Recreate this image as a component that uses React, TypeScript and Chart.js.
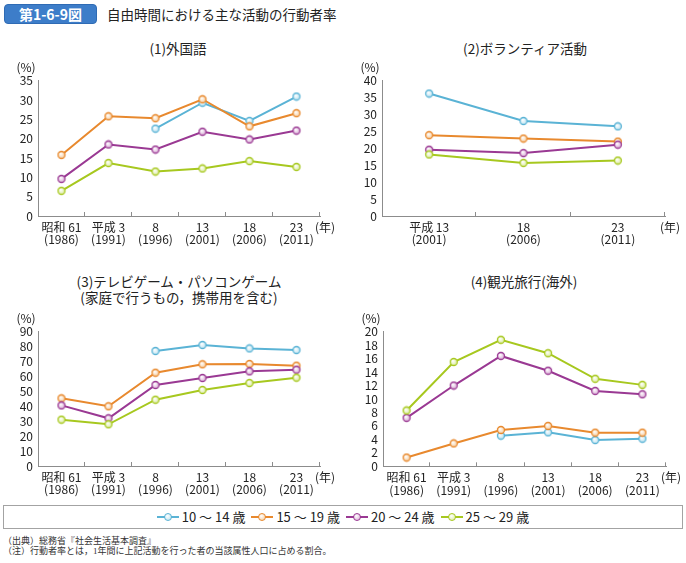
import React, { useEffect, useRef } from "react";
import { Chart, registerables } from "chart.js";

Chart.register(...registerables);

// ---------- data ----------
const yearsLong = [
  ["昭和 61", "(1986)"],
  ["平成 3", "(1991)"],
  ["8", "(1996)"],
  ["13", "(2001)"],
  ["18", "(2006)"],
  ["23", "(2011)"],
];
const yearsShort = [
  ["平成 13", "(2001)"],
  ["18", "(2006)"],
  ["23", "(2011)"],
];
const seriesNames = ["10 ～ 14 歳", "15 ～ 19 歳", "20 ～ 24 歳", "25 ～ 29 歳"];

// (1) 外国語
const foreign10 = [null, null, 22.6, 29.3, 24.6, 30.9];
const foreign15 = [15.8, 25.8, 25.3, 30.2, 23.2, 26.6];
const foreign20 = [9.6, 18.5, 17.2, 21.8, 19.8, 22.1];
const foreign25 = [6.5, 13.7, 11.5, 12.3, 14.2, 12.7];

// (2) ボランティア活動
const volunteer10 = [36.2, 28.1, 26.5];
const volunteer15 = [23.9, 22.9, 22.0];
const volunteer20 = [19.6, 18.6, 21.1];
const volunteer25 = [18.2, 15.7, 16.4];

// (3) テレビゲーム・パソコンゲーム
const game10 = [null, null, 76.7, 80.7, 78.4, 77.3];
const game15 = [45.1, 39.8, 62.2, 67.8, 68.0, 66.9];
const game20 = [40.4, 31.8, 54.0, 58.7, 63.1, 64.2];
const game25 = [30.9, 27.8, 44.2, 50.7, 55.3, 58.9];

// (4) 観光旅行（海外）
const travel10 = [null, null, 4.55, 5.05, 3.9, 4.1];
const travel15 = [1.3, 3.4, 5.4, 6.0, 5.0, 5.0];
const travel20 = [7.2, 12.0, 16.4, 14.2, 11.2, 10.7];
const travel25 = [8.3, 15.5, 18.8, 16.8, 13.0, 12.1];

// ---------- styles ----------
const lineColors = ["#5ab3d5", "#e8892e", "#9a3993", "#a7c81f"];
const tintColors = ["#b6e0ef", "#f5c997", "#d7a6d3", "#d8ea98"];
const AXIS = "#8c8c8c";
const TEXT = "#222";
const FONT = '"Noto Sans CJK JP", "Noto Sans", sans-serif';

function makePoint(color: string, tint: string) {
  const c = document.createElement("canvas");
  const s = 10;
  c.width = s;
  c.height = s;
  const ctx = c.getContext("2d")!;
  const g = ctx.createRadialGradient(4, 3.8, 0.3, 5, 5, 4);
  g.addColorStop(0, "#ffffff");
  g.addColorStop(1, tint);
  ctx.beginPath();
  ctx.arc(5, 5, 3.5, 0, Math.PI * 2);
  ctx.fillStyle = g;
  ctx.fill();
  ctx.lineWidth = 1.3;
  ctx.strokeStyle = color;
  ctx.stroke();
  return c;
}

const extrasPlugin = {
  id: "extras",
  afterDraw(chart: any) {
    const { ctx, chartArea: a, scales } = chart;
    const x = scales.x;
    const n = chart.data.labels.length;
    const half = (a.right - a.left) / n / 2;
    ctx.save();
    ctx.strokeStyle = AXIS;
    ctx.lineWidth = 1;
    for (let i = 1; i <= n; i++) {
      const px = i < n ? x.getPixelForValue(i) - half : a.right;
      const p = Math.round(px) - 0.5;
      ctx.beginPath();
      ctx.moveTo(p, a.bottom);
      ctx.lineTo(p, a.bottom - 4);
      ctx.stroke();
    }
    ctx.fillStyle = TEXT;
    ctx.font = `12px ${FONT}`;
    ctx.textAlign = "center";
    ctx.textBaseline = "middle";
    ctx.fillText("(%)", a.left - 12, a.top - 13);
    ctx.fillText("(年)", a.right + 5, a.bottom + 11);
    ctx.restore();
  },
};

type PanelProps = {
  left: number;
  top: number;
  width: number;
  height: number;
  yWidth: number;
  xHeight: number;
  padTop: number;
  padRight: number;
  labels: string[][];
  series: (number | null)[][];
  max: number;
  step: number;
};

function Panel(p: PanelProps) {
  const ref = useRef<HTMLCanvasElement | null>(null);
  useEffect(() => {
    if (!ref.current) return;
    const chart = new Chart(ref.current, {
      type: "line",
      data: {
        labels: p.labels,
        datasets: p.series.map((d, i) => ({
          label: seriesNames[i],
          data: d,
          borderColor: lineColors[i],
          borderWidth: 2,
          pointStyle: makePoint(lineColors[i], tintColors[i]) as any,
          pointRadius: 4,
          spanGaps: false,
          tension: 0,
          order: 3 - i,
        })),
      },
      options: {
        responsive: false,
        animation: false,
        events: [],
        layout: { padding: { top: p.padTop, right: p.padRight, left: 0, bottom: 0 } },
        plugins: { legend: { display: false }, tooltip: { enabled: false }, title: { display: false } },
        scales: {
          x: {
            offset: true,
            grid: { display: true, drawOnChartArea: false, drawTicks: false },
            border: { display: true, color: AXIS, width: 1 },
            ticks: {
              autoSkip: false,
              maxRotation: 0,
              minRotation: 0,
              padding: 5,
              color: TEXT,
              font: { family: FONT, size: 12, lineHeight: 1.05 },
            },
            afterFit: (s: any) => {
              s.height = p.xHeight;
            },
          },
          y: {
            min: 0,
            max: p.max,
            grid: { display: true, drawOnChartArea: false, drawTicks: false },
            border: { display: true, color: AXIS, width: 1 },
            ticks: {
              stepSize: p.step,
              autoSkip: false,
              padding: 5,
              color: TEXT,
              font: { family: FONT, size: 12, lineHeight: 1 },
            },
            afterFit: (s: any) => {
              s.width = p.yWidth;
            },
          },
        },
      },
      plugins: [extrasPlugin],
    });
    return () => chart.destroy();
  }, []);
  return (
    <canvas
      ref={ref}
      width={p.width}
      height={p.height}
      style={{ position: "absolute", left: p.left, top: p.top, width: p.width, height: p.height }}
    />
  );
}

function Title({ cx, cy, text }: { cx: number; cy: number; text: string }) {
  return (
    <div
      style={{
        position: "absolute",
        left: cx - 150,
        top: cy - 9,
        width: 300,
        height: 18,
        lineHeight: "18px",
        textAlign: "center",
        fontSize: 13.5,
        color: TEXT,
        whiteSpace: "nowrap",
      }}
    >
      {text}
    </div>
  );
}

function LegendMarker({ i }: { i: number }) {
  return (
    <span style={{ position: "relative", display: "inline-block", width: 22, height: 10 }}>
      <span
        style={{
          position: "absolute",
          left: 0,
          top: 4,
          width: 22,
          height: 2,
          background: lineColors[i],
        }}
      />
      <span
        style={{
          position: "absolute",
          left: 7,
          top: 1,
          width: 8,
          height: 8,
          boxSizing: "border-box",
          borderRadius: "50%",
          border: `1.3px solid ${lineColors[i]}`,
          background: `radial-gradient(circle at 40% 35%, #fff 0%, ${tintColors[i]} 100%)`,
        }}
      />
    </span>
  );
}

export default function App() {
  return (
    <div
      style={{
        position: "absolute",
        left: 0,
        top: 0,
        width: 686,
        height: 563,
        background: "#fff",
        fontFamily: FONT,
        color: TEXT,
        overflow: "hidden",
      }}
    >
      <div
        style={{
          position: "absolute",
          left: 4,
          top: 4,
          width: 93,
          height: 20,
          boxSizing: "border-box",
          borderRadius: 4,
          background: "#3d7dc9",
          border: "1px solid #2f6bb4",
          color: "#fff",
          fontWeight: 700,
          fontSize: 14,
          lineHeight: "18px",
          textAlign: "center",
        }}
      >
        第1-6-9図
      </div>
      <div
        style={{
          position: "absolute",
          left: 107,
          top: 4,
          height: 20,
          lineHeight: "20px",
          fontSize: 13.5,
          color: "#222",
          whiteSpace: "nowrap",
        }}
      >
        自由時間における主な活動の行動者率
      </div>

      <Title cx={178} cy={48} text="(1)外国語" />
      <Title cx={525} cy={48} text="(2)ボランティア活動" />
      <Title cx={179} cy={281} text="(3)テレビゲーム・パソコンゲーム" />
      <Title cx={179} cy={297} text="(家庭で行うもの，携帯用を含む)" />
      <Title cx={524} cy={281} text="(4)観光旅行(海外)" />

      <Panel
        left={0}
        top={60}
        width={343}
        height={190}
        yWidth={38}
        xHeight={34}
        padTop={20.7}
        padRight={23}
        labels={yearsLong}
        series={[foreign10, foreign15, foreign20, foreign25]}
        max={35}
        step={5}
      />
      <Panel
        left={343}
        top={60}
        width={343}
        height={190}
        yWidth={39}
        xHeight={34}
        padTop={20.7}
        padRight={21}
        labels={yearsShort}
        series={[volunteer10, volunteer15, volunteer20, volunteer25]}
        max={40}
        step={5}
      />
      <Panel
        left={0}
        top={310}
        width={343}
        height={190}
        yWidth={38}
        xHeight={34}
        padTop={21}
        padRight={23}
        labels={yearsLong}
        series={[game10, game15, game20, game25]}
        max={90}
        step={10}
      />
      <Panel
        left={343}
        top={310}
        width={343}
        height={190}
        yWidth={40}
        xHeight={33.7}
        padTop={21.7}
        padRight={20}
        labels={yearsLong}
        series={[travel10, travel15, travel20, travel25]}
        max={20}
        step={2}
      />

      <div
        style={{
          position: "absolute",
          left: 3,
          top: 505,
          width: 680,
          height: 24,
          boxSizing: "border-box",
          border: "1px solid #a3a3a3",
          display: "flex",
          justifyContent: "center",
          alignItems: "center",
          gap: 6,
          fontSize: 13,
        }}
      >
        {seriesNames.map((n, i) => (
          <div key={n} style={{ display: "flex", alignItems: "center", whiteSpace: "nowrap" }}>
            <LegendMarker i={i} />
            <span style={{ marginLeft: 3, lineHeight: "16px" }}>{n}</span>
          </div>
        ))}
      </div>

      <div
        style={{
          position: "absolute",
          left: 3,
          top: 537,
          fontSize: 9,
          lineHeight: "9.5px",
          color: "#333",
          fontFamily: '"Liberation Serif", "Noto Sans CJK JP", serif',
          whiteSpace: "nowrap",
        }}
      >
        <div>（出典）総務省『社会生活基本調査』</div>
        <div>（注）行動者率とは，1年間に上記活動を行った者の当該属性人口に占める割合。</div>
      </div>
    </div>
  );
}
